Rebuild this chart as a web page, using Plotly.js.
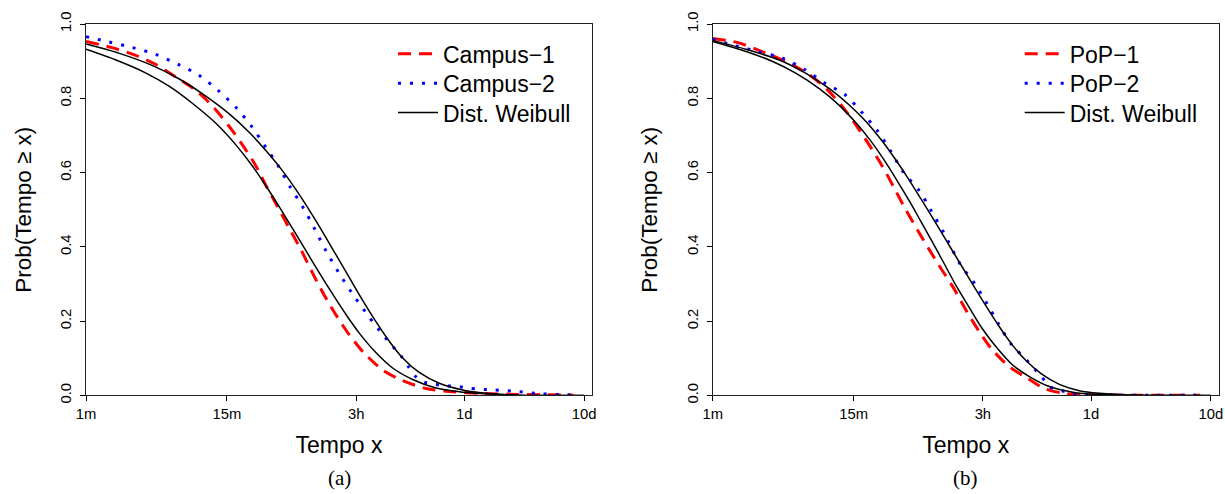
<!DOCTYPE html>
<html><head><meta charset="utf-8">
<script src="https://cdn.plot.ly/plotly-3.0.1.min.js"></script>
<style>html,body{margin:0;padding:0;background:#fff}#chart{width:1225px;height:494px}</style>
</head><body><div id="chart"></div>
<script>
// Tick labels (x in minutes, log scale)
const tickMinutes = [1, 15, 180, 1440, 14400];
const tickLabels = ["1m", "15m", "3h", "1d", "10d"];
const yTicks = [0, 0.2, 0.4, 0.6, 0.8, 1.0];

// Panel (a)
const campus1X = [1, 1.62, 2.53, 3.84, 5.82, 8.55, 11.8, 15.7, 20.3, 26.2, 31.8, 39.8, 49.8, 62.4, 78, 97.5, 122, 158, 210, 299, 440, 689, 1151, 1919, 3981, 11750];
const campus1Y = [0.953, 0.937, 0.917, 0.891, 0.854, 0.818, 0.773, 0.724, 0.674, 0.618, 0.565, 0.508, 0.450, 0.392, 0.329, 0.270, 0.217, 0.163, 0.114, 0.069, 0.040, 0.019, 0.010, 0.006, 0.003, 0.001];
const campus2X = [1, 1.54, 2.42, 3.77, 5.82, 8.69, 12.8, 17.9, 24.3, 31.4, 40.6, 50.5, 65.2, 81.5, 101, 128, 165, 215, 283, 375, 432, 490, 557, 662, 818, 1023, 1282, 1603, 2483, 3882, 6081, 9638, 11695];
const campus2Y = [0.966, 0.952, 0.937, 0.919, 0.892, 0.863, 0.820, 0.775, 0.723, 0.670, 0.616, 0.562, 0.505, 0.447, 0.389, 0.332, 0.277, 0.225, 0.174, 0.127, 0.104, 0.078, 0.053, 0.036, 0.030, 0.026, 0.024, 0.019, 0.015, 0.011, 0.005, 0.002, 0.002];
const weibullA1X = [1, 1.90, 3.60, 6.01, 10.0, 15.7, 23.1, 32.8, 43.9, 56.6, 73.1, 94.6, 122, 158, 204, 264, 340, 440, 605, 889, 1393, 2183, 3981, 14400];
const weibullA1Y = [0.946, 0.921, 0.888, 0.852, 0.806, 0.758, 0.708, 0.654, 0.604, 0.554, 0.499, 0.440, 0.379, 0.317, 0.256, 0.198, 0.146, 0.101, 0.062, 0.033, 0.015, 0.006, 0.001, 0];
const weibullA2X = [1, 1.78, 3.17, 4.97, 7.76, 12.2, 17.9, 24.6, 31.8, 41.1, 53.1, 68.5, 88.7, 115, 148, 191, 264, 363, 533, 836, 1393, 2183, 3981, 14400];
const weibullA2Y = [0.932, 0.903, 0.868, 0.832, 0.786, 0.732, 0.674, 0.617, 0.564, 0.508, 0.449, 0.390, 0.330, 0.272, 0.218, 0.168, 0.115, 0.074, 0.043, 0.020, 0.009, 0.005, 0.001, 0];

// Panel (b)
const pop1X = [1, 1.62, 2.61, 4.09, 6.41, 9.12, 12.2, 15.7, 20.3, 26.2, 32.8, 41.1, 51.4, 64.4, 80.5, 101, 130, 168, 217, 299, 426, 597, 851, 1393, 3162, 11750];
const pop1Y = [0.961, 0.950, 0.925, 0.899, 0.863, 0.822, 0.776, 0.728, 0.674, 0.616, 0.558, 0.499, 0.445, 0.392, 0.342, 0.293, 0.230, 0.172, 0.122, 0.078, 0.046, 0.018, 0.006, 0.002, 0.001, 0.001];
const pop2X = [1, 1.57, 2.45, 3.84, 5.82, 8.55, 12.8, 17.7, 23.8, 30.8, 39.3, 53.1, 67.3, 84.7, 116, 153, 194, 244, 309, 421, 561, 646, 735, 948, 1151, 2512, 11750];
const pop2Y = [0.959, 0.941, 0.925, 0.908, 0.878, 0.842, 0.809, 0.761, 0.712, 0.656, 0.600, 0.551, 0.495, 0.439, 0.354, 0.302, 0.248, 0.192, 0.139, 0.094, 0.049, 0.024, 0.017, 0.008, 0.004, 0.001, 0.001];
const weibullB1X = [1, 1.90, 3.60, 6.01, 9.42, 13.8, 19.1, 25.4, 32.8, 42.5, 54.8, 70.8, 88.7, 115, 148, 191, 247, 319, 412, 551, 783, 1151, 1690, 3162, 14400];
const weibullB1Y = [0.956, 0.932, 0.903, 0.867, 0.826, 0.782, 0.737, 0.689, 0.640, 0.586, 0.529, 0.471, 0.418, 0.358, 0.299, 0.241, 0.185, 0.135, 0.094, 0.059, 0.030, 0.013, 0.006, 0.001, 0];
const weibullB2X = [1, 1.90, 3.17, 4.97, 7.76, 11.4, 15.7, 21.0, 27.1, 35.0, 43.9, 54.8, 68.5, 85.9, 107, 139, 179, 232, 319, 440, 646, 1012, 1585, 3162, 14400];
const weibullB2Y = [0.953, 0.926, 0.899, 0.867, 0.826, 0.781, 0.734, 0.684, 0.633, 0.576, 0.523, 0.468, 0.412, 0.354, 0.297, 0.236, 0.179, 0.131, 0.082, 0.051, 0.024, 0.009, 0.003, 0.001, 0];

const FONT = "Liberation Sans, Arial, Helvetica, sans-serif";
const red = {color: "#ff0000", width: 3, dash: "13px,8px", shape: "spline", smoothing: 0.8};
const blue = {color: "#0000ff", width: 3, dash: "3px,9px", shape: "spline", smoothing: 0.8};
const black = {color: "#000000", width: 1.5, shape: "spline", smoothing: 0.8};

const traces = [
  {x: campus1X, y: campus1Y, name: "Campus\u22121", mode: "lines", line: red, xaxis: "x", yaxis: "y", legend: "legend"},
  {x: campus2X, y: campus2Y, name: "Campus\u22122", mode: "lines", line: blue, xaxis: "x", yaxis: "y", legend: "legend2"},
  {x: weibullA1X, y: weibullA1Y, name: "Dist. Weibull", mode: "lines", line: black, xaxis: "x", yaxis: "y", legend: "legend3"},
  {x: weibullA2X, y: weibullA2Y, name: "Dist. Weibull", mode: "lines", line: black, xaxis: "x", yaxis: "y", showlegend: false},
  {x: pop1X, y: pop1Y, name: "PoP\u22121", mode: "lines", line: red, xaxis: "x2", yaxis: "y2", legend: "legend4"},
  {x: pop2X, y: pop2Y, name: "PoP\u22122", mode: "lines", line: blue, xaxis: "x2", yaxis: "y2", legend: "legend5"},
  {x: weibullB1X, y: weibullB1Y, name: "Dist. Weibull", mode: "lines", line: black, xaxis: "x2", yaxis: "y2", legend: "legend6"},
  {x: weibullB2X, y: weibullB2Y, name: "Dist. Weibull", mode: "lines", line: black, xaxis: "x2", yaxis: "y2", showlegend: false}
];

function xAxis(domain, anchor) {
  return {
    domain: domain, anchor: anchor, type: "log", range: [0, 4.224],
    tickmode: "array", tickvals: tickMinutes, ticktext: tickLabels,
    ticks: "outside", ticklen: 5, tickwidth: 1, tickcolor: "#000",
    showline: true, linecolor: "#222", linewidth: 1, mirror: true,
    showgrid: false, zeroline: false, automargin: false,
    tickfont: {family: FONT, size: 14.8, color: "#000"},
    title: {text: "Tempo x", font: {family: FONT, size: 23, color: "#000"}, standoff: 15}
  };
}
function yAxis(anchor) {
  return {
    domain: [0.1994, 0.9514], anchor: anchor, range: [0, 1],
    tickmode: "array", tickvals: yTicks, tickformat: ".1f", tickangle: -90,
    ticks: "outside", ticklen: 5, tickwidth: 1, tickcolor: "#000",
    ticklabelstandoff: 3,
    showline: true, linecolor: "#222", linewidth: 1, mirror: true,
    showgrid: false, zeroline: false, automargin: false,
    tickfont: {family: FONT, size: 14.8, color: "#000"},
    title: {text: "Prob(Tempo \u2265 x)", font: {family: FONT, size: 22.5, color: "#000"}, standoff: 20}
  };
}
function legendAt(xpx, ypx) {
  return {x: xpx / 1225, xanchor: "left", y: 1 - ypx / 494, yanchor: "top",
    font: {family: FONT, size: 23, color: "#000"}, bgcolor: "rgba(0,0,0,0)",
    borderwidth: 0, itemwidth: 40, tracegroupgap: 0};
}
const legendRows = [32.3, 61.7, 91.1];
const legendLeftA = 393, legendLeftB = 393 + 626.7;

const layout = {
  width: 1225, height: 494,
  margin: {l: 0, r: 0, t: 0, b: 0},
  paper_bgcolor: "#fff", plot_bgcolor: "#fff",
  font: {family: FONT, color: "#000"},
  xaxis: xAxis([86 / 1225, 592 / 1225], "y"),
  yaxis: yAxis("x"),
  xaxis2: xAxis([712.7 / 1225, 1218.7 / 1225], "y2"),
  yaxis2: yAxis("x2"),
  legend: legendAt(legendLeftA, legendRows[0]),
  legend2: legendAt(legendLeftA, legendRows[1]),
  legend3: legendAt(legendLeftA, legendRows[2]),
  legend4: legendAt(legendLeftB, legendRows[0]),
  legend5: legendAt(legendLeftB, legendRows[1]),
  legend6: legendAt(legendLeftB, legendRows[2]),
  annotations: [
    {text: "(a)", xref: "paper", yref: "paper", x: 339 / 1225, y: 16 / 494, xanchor: "center", yanchor: "middle", showarrow: false, font: {family: "Liberation Serif, DejaVu Serif, serif", size: 21, color: "#000"}},
    {text: "(b)", xref: "paper", yref: "paper", x: 965.7 / 1225, y: 16 / 494, xanchor: "center", yanchor: "middle", showarrow: false, font: {family: "Liberation Serif, DejaVu Serif, serif", size: 21, color: "#000"}}
  ],
  showlegend: true
};

Plotly.newPlot("chart", traces, layout, {staticPlot: true, displayModeBar: false});
</script>
</body></html>
